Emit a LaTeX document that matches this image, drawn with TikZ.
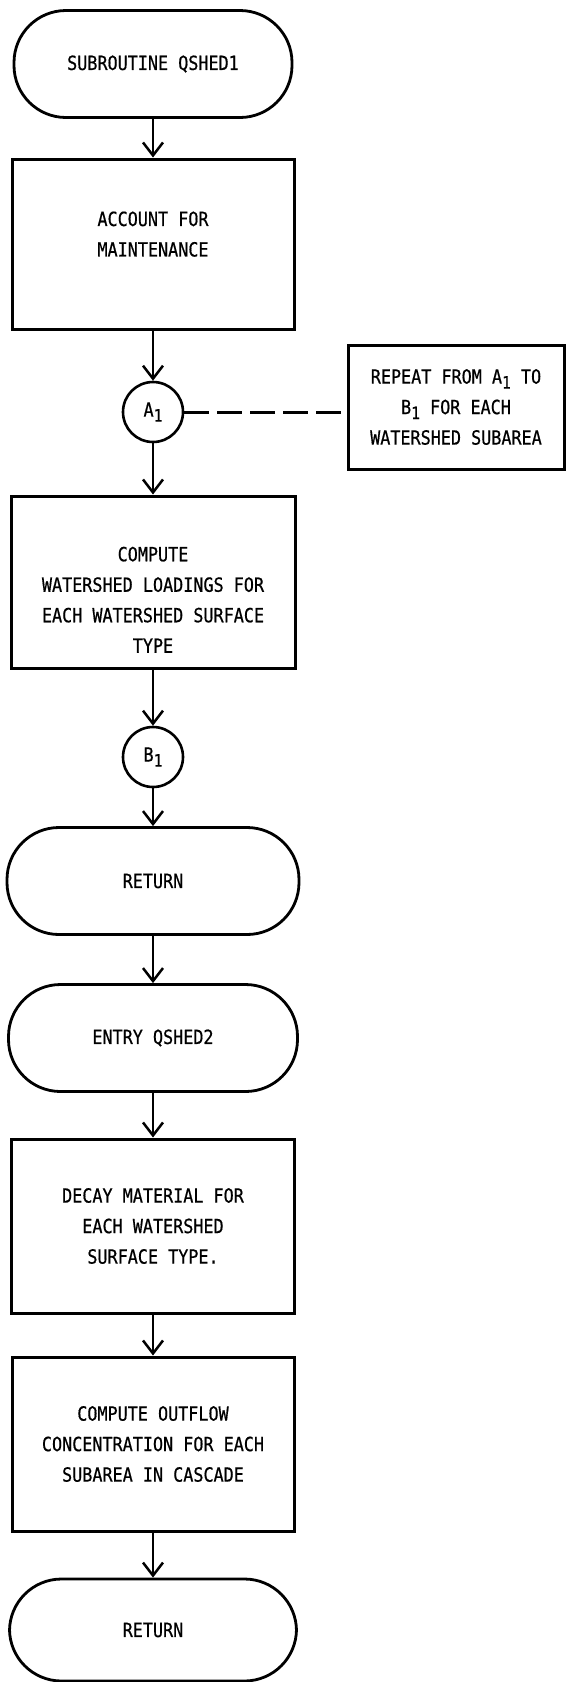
\documentclass[tikz,border=0pt]{standalone}
\usepackage{fontspec}
\newfontfamily\prt[FakeStretch=0.86, FakeBold=0.6]{DejaVu Sans Mono}
\usetikzlibrary{arrows.meta}
\newcommand{\lowone}{\raisebox{-5pt}{\fontsize{17}{17}\selectfont 1}}

\begin{document}
\begin{tikzpicture}[x=1pt, y=-1pt,
  term/.style={draw, line width=2.8pt, rounded corners=52pt, minimum height=107pt, inner sep=0pt},
  proc/.style={draw, line width=3pt, align=center, inner sep=0pt},
  conn/.style={draw, circle, line width=2.6pt, minimum size=60pt, inner sep=0pt},
  flow/.style={-{Straight Barb[length=13pt, width=20pt]}, line width=2.5pt},
  loop/.style={line width=3pt, dash pattern=on 25pt off 8pt},
  every node/.style={font=\prt\fontsize{19.5}{30.5}\selectfont}
]
\useasboundingbox (0,0) rectangle (566,1682);

\node[term, minimum width=278pt] (sub) at (153,64) {SUBROUTINE QSHED1};
\node[proc, minimum width=282pt, minimum height=170pt] (maint) at (153,244) {ACCOUNT FOR\\MAINTENANCE\rule[-20pt]{0pt}{0pt}};
\node[conn] (a1) at (153,412) {A\lowone};
\node[proc, minimum width=216pt, minimum height=124pt] (rep) at (456,407) {REPEAT FROM A\lowone{} TO\\B\lowone{} FOR EACH\\WATERSHED SUBAREA};
\node[proc, minimum width=284pt, minimum height=172pt] (load) at (153,582) {\rule{0pt}{50pt}COMPUTE\\WATERSHED LOADINGS FOR\\EACH WATERSHED SURFACE\\TYPE};
\node[conn] (b1) at (153,757) {B\lowone};
\node[term, minimum width=292pt] (ret1) at (153,881) {RETURN};
\node[term, minimum width=289pt] (entry) at (153,1038) {ENTRY QSHED2};
\node[proc, minimum width=283pt, minimum height=174pt] (decay) at (153,1226) {DECAY MATERIAL FOR\\EACH WATERSHED\\SURFACE TYPE.};
\node[proc, minimum width=282pt, minimum height=174pt] (outflow) at (153,1444) {COMPUTE OUTFLOW\\CONCENTRATION FOR EACH\\SUBAREA IN CASCADE};
\node[term, minimum width=287pt, minimum height=102pt] (ret2) at (153,1630) {RETURN};

\draw[flow] (sub) -- (maint);
\draw[flow] (maint) -- (a1);
\draw[flow] (a1) -- (load);
\draw[loop] (a1) -- (a1 -| rep.west);
\draw[flow] (load) -- (b1);
\draw[flow] (b1) -- (ret1);
\draw[flow] (ret1) -- (entry);
\draw[flow] (entry) -- (decay);
\draw[flow] (decay) -- (outflow);
\draw[flow] (outflow) -- (ret2);
\end{tikzpicture}
\end{document}
